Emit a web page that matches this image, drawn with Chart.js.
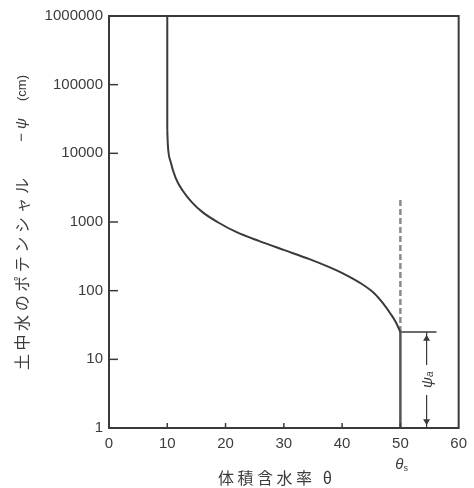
<!DOCTYPE html>
<html>
<head>
<meta charset="utf-8">
<script src="https://cdn.jsdelivr.net/npm/chart.js@4"></script>
<style>
  html, body { margin: 0; padding: 0; background: #fff; }
  #wrap { width: 474px; height: 488px; }
</style>
</head>
<body>
<div id="wrap"><canvas id="chart" width="474" height="488"></canvas></div>
<script>
// Retention curve (theta in %, psi in cm)
const dryTheta = [10, 10];
const dryPsi = [1000000, 21800];
const curveTheta = [10, 10.1, 10.6, 11.45, 12.6, 14.2, 16.1, 18.6, 21.9, 25.8, 30.1, 34.4, 37.8, 40.7, 43.4, 45.5, 47.0, 48.4, 49.2, 50];
const curvePsi = [21800, 13200, 7400, 4360, 2900, 1950, 1380, 1000, 710, 526, 389, 288, 220, 169, 125, 92, 66, 45, 35, 25];

const thetaS = 50;
const psiCr = 25;
const dashedTop = 2200;
const shelfEnd = 56.2;
const arrowTheta = 54.5;

const xTicks = [0, 10, 20, 30, 40, 50, 60];
const yTicks = [1, 10, 100, 1000, 10000, 100000, 1000000];

const lineColor = '#3a3a3a';
const textColor = '#3c3c3c';
const numFont = '"Liberation Sans", Arial, sans-serif';
const jpFont = '"Noto Sans CJK JP", "Noto Sans", sans-serif';

// Text with letter spacing stretched to fill a given width
function spreadText(ctx, text, cx, cy, width) {
  ctx.letterSpacing = '0px';
  const w = ctx.measureText(text).width;
  const gap = Math.max(0, (width - w) / Math.max(1, text.length - 1));
  ctx.letterSpacing = gap + 'px';
  const total = ctx.measureText(text).width - gap;
  ctx.textAlign = 'left';
  ctx.fillText(text, cx - total / 2, cy);
  ctx.letterSpacing = '0px';
}

const decor = {
  id: 'decor',
  afterDatasetsDraw(chart) {
    const ctx = chart.ctx;
    const a = chart.chartArea;
    const xs = chart.scales.x;
    const ys = chart.scales.y;
    ctx.save();

    // inward tick marks
    ctx.strokeStyle = lineColor;
    ctx.lineWidth = 1.5;
    xs.ticks.forEach(t => {
      if (t.value <= 0 || t.value >= 60) return;
      const px = xs.getPixelForValue(t.value);
      ctx.beginPath();
      ctx.moveTo(px, a.bottom);
      ctx.lineTo(px, a.bottom - 5);
      ctx.stroke();
    });
    ys.ticks.forEach(t => {
      if (t.value <= 1 || t.value >= 1000000) return;
      const py = ys.getPixelForValue(t.value);
      ctx.beginPath();
      ctx.moveTo(a.left, py);
      ctx.lineTo(a.left + 9, py);
      ctx.stroke();
    });

    // frame
    ctx.lineWidth = 2;
    ctx.strokeRect(a.left, a.top, a.right - a.left, a.bottom - a.top);

    // label on the arrow
    const ax = xs.getPixelForValue(arrowTheta);
    const ay = (ys.getPixelForValue(psiCr) + ys.getPixelForValue(1)) / 2;
    ctx.fillStyle = '#fff';
    ctx.fillRect(ax - 7, ay - 15, 14, 30);
    ctx.fillStyle = textColor;
    ctx.translate(ax, ay);
    ctx.rotate(-Math.PI / 2);
    ctx.textBaseline = 'middle';
    ctx.textAlign = 'right';
    ctx.font = 'italic 15px ' + numFont;
    ctx.fillText('ψ', 3, 1);
    ctx.textAlign = 'left';
    ctx.font = 'italic 10px ' + numFont;
    ctx.fillText('a', 3, 4);
    ctx.restore();

    ctx.save();
    ctx.fillStyle = textColor;
    ctx.textBaseline = 'middle';

    // theta_s under the 50 tick
    const sx = xs.getPixelForValue(thetaS);
    ctx.font = 'italic 15px ' + numFont;
    ctx.textAlign = 'right';
    ctx.fillText('θ', sx + 3, 465);
    ctx.font = '9px ' + numFont;
    ctx.textAlign = 'left';
    ctx.fillText('s', sx + 3, 469);

    // x title
    ctx.font = '16px ' + jpFont;
    spreadText(ctx, '体積含水率 θ', 275, 478, 114);

    // y title, rotated
    ctx.translate(22, 0);
    ctx.rotate(-Math.PI / 2);
    ctx.font = '16px ' + jpFont;
    spreadText(ctx, '土中水のポテンシャル', -274, 0, 192);
    ctx.font = 'italic 15px ' + numFont;
    spreadText(ctx, '− ψ', -130, 0, 22);
    ctx.font = '13px ' + numFont;
    spreadText(ctx, '(cm)', -88, 0, 25);
    ctx.restore();
  }
};

new Chart(document.getElementById('chart'), {
  type: 'scatter',
  data: {
    datasets: [
      {
        data: dryTheta.map((t, i) => ({ x: t, y: dryPsi[i] })),
        showLine: true,
        borderColor: lineColor,
        borderWidth: 2,
        pointRadius: 0
      },
      {
        data: curveTheta.map((t, i) => ({ x: t, y: curvePsi[i] })),
        showLine: true,
        borderColor: lineColor,
        borderWidth: 2,
        pointRadius: 0,
        cubicInterpolationMode: 'monotone'
      },
      {
        data: [{ x: thetaS, y: psiCr }, { x: thetaS, y: 1 }],
        showLine: true,
        borderColor: '#555',
        borderWidth: 2.5,
        pointRadius: 0
      },
      {
        data: [{ x: thetaS, y: psiCr }, { x: thetaS, y: dashedTop }],
        showLine: true,
        borderColor: '#8a8a8a',
        borderWidth: 2.5,
        borderDash: [6, 3],
        pointRadius: 0
      },
      {
        data: [{ x: thetaS, y: psiCr }, { x: shelfEnd, y: psiCr }],
        showLine: true,
        borderColor: lineColor,
        borderWidth: 1.5,
        pointRadius: 0
      },
      {
        data: [{ x: arrowTheta, y: psiCr }, { x: arrowTheta, y: 1 }],
        showLine: true,
        borderColor: lineColor,
        borderWidth: 1.2,
        pointRadius: 0
      },
      {
        data: [{ x: arrowTheta, y: 20 }, { x: arrowTheta, y: 1.25 }],
        showLine: false,
        pointStyle: 'triangle',
        rotation: [0, 180],
        pointRadius: 4,
        backgroundColor: lineColor,
        borderColor: lineColor,
        borderWidth: 0
      }
    ]
  },
  options: {
    responsive: false,
    animation: false,
    layout: { padding: { left: 0, right: 14, top: 16, bottom: 0 } },
    plugins: { legend: { display: false }, tooltip: { enabled: false } },
    scales: {
      x: {
        type: 'linear',
        min: 0,
        max: 60,
        afterBuildTicks: s => { s.ticks = xTicks.map(v => ({ value: v })); },
        afterFit: s => { s.height = 60; },
        grid: { display: false, drawTicks: false },
        border: { display: false },
        ticks: { color: textColor, font: { family: numFont, size: 15 }, padding: 7 }
      },
      y: {
        type: 'logarithmic',
        min: 1,
        max: 1000000,
        afterBuildTicks: s => { s.ticks = yTicks.map(v => ({ value: v })); },
        afterFit: s => { s.width = 109; },
        grid: { display: false, drawTicks: false },
        border: { display: false },
        ticks: {
          color: textColor,
          font: { family: numFont, size: 15 },
          padding: 6,
          callback: v => String(v)
        }
      }
    }
  },
  plugins: [decor]
});
</script>
</body>
</html>
